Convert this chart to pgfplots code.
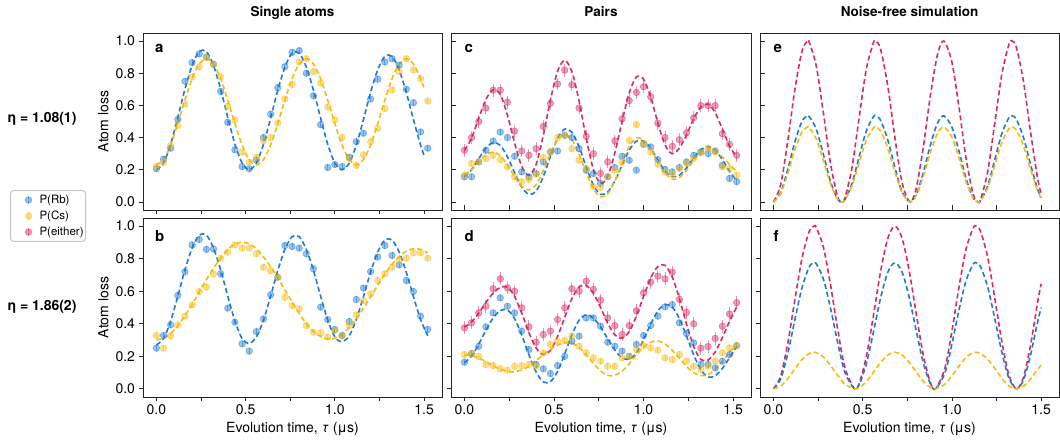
\documentclass[border=0pt]{standalone}
\usepackage{fontspec}
\setmainfont{TeX Gyre Heros}
\usepackage{pgfplots}
\usepackage{pgfplotstable}
\pgfplotsset{compat=1.18}
\definecolor{cblue}{RGB}{28,122,212}
\definecolor{cyel}{RGB}{246,186,12}
\definecolor{cpink}{RGB}{215,42,96}
\newcommand\fs[1]{\fontsize{#1}{#1}\selectfont}

\pgfplotstableread{
t b y
0.00 0.206 0.22
0.04 0.266 0.245
0.08 0.334 0.35
0.12 0.513 0.476
0.16 0.75 0.608
0.20 0.866 0.777
0.24 0.92 0.84
0.28 0.90 0.897
0.32 0.856 0.856
0.36 0.687 0.777
0.40 0.495 0.596
0.44 0.324 0.51
0.48 0.22 0.31
0.52 0.206 0.247
0.56 0.26 0.278
0.60 0.40 0.38
0.64 0.546 0.40
0.68 0.71 0.49
0.72 0.84 0.64
0.76 0.93 0.73
0.80 0.94 0.87
0.84 0.80 0.89
0.88 0.66 0.81
0.92 0.48 0.74
0.96 0.214 0.59
1.00 0.233 0.51
1.04 0.22 0.40
1.08 0.278 0.27
1.12 0.375 0.227
1.16 0.427 0.293
1.20 0.64 0.375
1.24 0.763 0.458
1.28 0.87 0.58
1.32 0.89 0.695
1.36 0.85 0.81
1.40 0.70 0.89
1.44 0.617 0.82
1.48 0.435 0.767
1.52 0.334 0.627
}\tabA

\pgfplotstableread{
t b y
0.00 0.200 0.230
0.04 0.242 0.263
0.08 0.360 0.354
0.12 0.525 0.487
0.16 0.701 0.633
0.20 0.847 0.766
0.24 0.935 0.857
0.28 0.935 0.890
0.32 0.847 0.857
0.36 0.701 0.766
0.40 0.525 0.633
0.44 0.360 0.487
0.48 0.242 0.354
0.52 0.200 0.263
0.56 0.242 0.230
0.60 0.358 0.263
0.64 0.521 0.354
0.68 0.694 0.487
0.72 0.838 0.633
0.76 0.925 0.766
0.80 0.925 0.857
0.84 0.838 0.890
0.88 0.694 0.857
0.92 0.521 0.766
0.96 0.358 0.633
1.00 0.242 0.487
1.04 0.200 0.354
1.08 0.241 0.263
1.12 0.353 0.230
1.16 0.512 0.263
1.20 0.681 0.354
1.24 0.821 0.487
1.28 0.905 0.633
1.32 0.905 0.766
1.36 0.821 0.857
1.40 0.681 0.890
1.44 0.512 0.857
1.48 0.353 0.766
1.50 0.290 0.710
}\fitA

\pgfplotstableread{
t b y
0.00 0.25 0.328
0.04 0.328 0.25
0.08 0.393 0.324
0.12 0.574 0.393
0.16 0.72 0.447
0.20 0.885 0.516
0.24 0.918 0.598
0.28 0.857 0.625
0.32 0.86 0.707
0.36 0.707 0.803
0.40 0.496 0.84
0.44 0.41 0.885
0.48 0.277 0.865
0.52 0.232 0.865
0.56 0.352 0.83
0.60 0.43 0.748
0.64 0.578 0.727
0.68 0.686 0.686
0.72 0.881 0.563
0.76 0.875 0.512
0.80 0.865 0.492
0.84 0.83 0.389
0.88 0.738 0.348
0.92 0.502 0.344
0.96 0.426 0.318
1.00 0.365 0.359
1.04 0.328 0.324
1.08 0.414 0.389
1.12 0.549 0.455
1.16 0.619 0.543
1.20 0.721 0.584
1.24 0.81 0.666
1.28 0.881 0.707
1.32 0.82 0.748
1.36 0.762 0.789
1.40 0.666 0.803
1.44 0.598 0.836
1.48 0.447 0.836
1.52 0.365 0.803
}\tabB

\pgfplotstableread{
t b y
0.00 0.270 0.301
0.04 0.309 0.311
0.08 0.417 0.341
0.12 0.569 0.388
0.16 0.731 0.449
0.20 0.865 0.519
0.24 0.945 0.595
0.28 0.945 0.671
0.32 0.865 0.742
0.36 0.731 0.803
0.40 0.569 0.857
0.44 0.417 0.889
0.48 0.309 0.901
0.52 0.280 0.892
0.56 0.318 0.862
0.60 0.423 0.810
0.64 0.570 0.751
0.68 0.727 0.682
0.72 0.857 0.608
0.76 0.935 0.533
0.80 0.935 0.463
0.84 0.857 0.401
0.88 0.727 0.353
0.92 0.570 0.321
0.96 0.423 0.306
1.00 0.318 0.311
1.04 0.290 0.335
1.08 0.326 0.375
1.12 0.426 0.430
1.16 0.567 0.495
1.20 0.717 0.565
1.24 0.841 0.637
1.28 0.915 0.705
1.32 0.915 0.765
1.36 0.841 0.813
1.40 0.717 0.846
1.44 0.567 0.861
1.48 0.426 0.857
1.52 0.326 0.835
}\fitB

\pgfplotstableread{
t b y p
0.00 0.156 0.167 0.321
0.04 0.156 0.239 0.40
0.08 0.249 0.249 0.50
0.12 0.321 0.27 0.584
0.16 0.379 0.29 0.695
0.20 0.434 0.263 0.695
0.24 0.40 0.218 0.62
0.28 0.284 0.156 0.44
0.32 0.187 0.126 0.317
0.36 0.156 0.14 0.29
0.40 0.177 0.173 0.331
0.44 0.249 0.276 0.469
0.48 0.311 0.311 0.613
0.52 0.317 0.40 0.733
0.56 0.414 0.414 0.819
0.60 0.40 0.331 0.728
0.64 0.331 0.259 0.584
0.68 0.198 0.208 0.407
0.72 0.177 0.095 0.30
0.76 0.115 0.09 0.177
0.80 0.156 0.156 0.249
0.84 0.214 0.198 0.379
0.88 0.284 0.249 0.516
0.92 0.259 0.383 0.63
0.96 0.198 0.481 0.681
1.00 0.358 0.362 0.716
1.04 0.342 0.311 0.654
1.08 0.263 0.235 0.49
1.12 0.202 0.187 0.40
1.16 0.187 0.173 0.346
1.20 0.214 0.208 0.387
1.24 0.249 0.239 0.43
1.28 0.29 0.27 0.523
1.32 0.311 0.305 0.599
1.36 0.30 0.331 0.599
1.40 0.317 0.311 0.599
1.44 0.228 0.218 0.424
1.48 0.146 0.208 0.358
1.52 0.126 0.167 0.29
}\tabC

\pgfplotstableread{
t b y p
0.00 0.156 0.169 0.320
0.04 0.200 0.201 0.398
0.08 0.269 0.250 0.521
0.12 0.335 0.293 0.637
0.16 0.368 0.310 0.697
0.20 0.352 0.288 0.668
0.24 0.281 0.229 0.540
0.28 0.182 0.156 0.367
0.32 0.092 0.097 0.221
0.36 0.047 0.075 0.165
0.40 0.067 0.108 0.233
0.44 0.157 0.194 0.412
0.48 0.282 0.301 0.633
0.52 0.395 0.387 0.812
0.56 0.453 0.420 0.880
0.60 0.433 0.386 0.810
0.64 0.343 0.296 0.627
0.68 0.218 0.182 0.396
0.72 0.105 0.082 0.202
0.76 0.047 0.032 0.116
0.80 0.062 0.050 0.160
0.84 0.130 0.131 0.305
0.88 0.228 0.244 0.500
0.92 0.321 0.346 0.678
0.96 0.378 0.398 0.777
1.00 0.379 0.386 0.763
1.04 0.333 0.329 0.652
1.08 0.261 0.250 0.491
1.12 0.192 0.178 0.354
1.16 0.157 0.142 0.300
1.20 0.166 0.151 0.333
1.24 0.212 0.197 0.417
1.28 0.273 0.258 0.517
1.32 0.325 0.310 0.591
1.36 0.345 0.330 0.608
1.40 0.323 0.316 0.555
1.44 0.264 0.280 0.454
1.48 0.191 0.233 0.347
1.52 0.132 0.189 0.279
}\fitC

\pgfplotstableread{
t b y p
0.00 0.164 0.211 0.375
0.04 0.217 0.217 0.406
0.08 0.262 0.20 0.467
0.12 0.381 0.15 0.508
0.16 0.467 0.143 0.615
0.20 0.559 0.123 0.676
0.24 0.508 0.115 0.621
0.28 0.467 0.139 0.60
0.32 0.355 0.143 0.498
0.36 0.242 0.15 0.381
0.40 0.15 0.139 0.287
0.44 0.123 0.221 0.334
0.48 0.094 0.273 0.355
0.52 0.143 0.293 0.426
0.56 0.20 0.297 0.498
0.60 0.293 0.324 0.615
0.64 0.324 0.262 0.60
0.68 0.436 0.221 0.662
0.72 0.436 0.191 0.611
0.76 0.385 0.17 0.545
0.80 0.287 0.139 0.436
0.84 0.262 0.139 0.389
0.88 0.232 0.191 0.334
0.92 0.20 0.20 0.389
0.96 0.273 0.242 0.48
1.00 0.328 0.266 0.59
1.04 0.389 0.252 0.656
1.08 0.447 0.238 0.693
1.12 0.504 0.191 0.676
1.16 0.518 0.18 0.717
1.20 0.406 0.211 0.55
1.24 0.34 0.17 0.47
1.28 0.283 0.139 0.40
1.32 0.15 0.119 0.25
1.36 0.15 0.139 0.26
1.40 0.129 0.17 0.31
1.44 0.17 0.221 0.385
1.48 0.211 0.252 0.46
1.52 0.266 0.266 0.53
}\tabD

\pgfplotstableread{
t b y p
0.00 0.160 0.210 0.379
0.04 0.202 0.204 0.411
0.08 0.275 0.189 0.466
0.12 0.360 0.167 0.531
0.16 0.435 0.142 0.588
0.20 0.481 0.121 0.623
0.24 0.485 0.108 0.625
0.28 0.431 0.105 0.568
0.32 0.330 0.116 0.465
0.36 0.210 0.140 0.346
0.40 0.104 0.173 0.252
0.44 0.043 0.209 0.210
0.48 0.044 0.243 0.236
0.52 0.107 0.269 0.322
0.56 0.215 0.283 0.440
0.60 0.332 0.282 0.554
0.64 0.422 0.255 0.626
0.68 0.455 0.209 0.636
0.72 0.435 0.156 0.587
0.76 0.381 0.110 0.500
0.80 0.308 0.083 0.403
0.84 0.238 0.083 0.332
0.88 0.191 0.109 0.311
0.92 0.182 0.154 0.352
0.96 0.221 0.208 0.447
1.00 0.302 0.256 0.568
1.04 0.398 0.287 0.681
1.08 0.479 0.294 0.752
1.12 0.518 0.276 0.759
1.16 0.503 0.237 0.688
1.20 0.432 0.188 0.556
1.24 0.324 0.138 0.398
1.28 0.209 0.099 0.261
1.32 0.117 0.081 0.180
1.36 0.072 0.088 0.177
1.40 0.081 0.120 0.227
1.44 0.125 0.169 0.314
1.48 0.191 0.224 0.415
1.52 0.260 0.270 0.503
}\fitD

\pgfplotstableread{
t p b y
0.00 0 0 0
0.04 0.104 0.056 0.049
0.08 0.374 0.200 0.174
0.12 0.696 0.372 0.324
0.16 0.937 0.501 0.436
0.191 1.000 0.535 0.465
0.20 0.995 0.532 0.462
0.24 0.846 0.453 0.393
0.28 0.554 0.296 0.257
0.32 0.238 0.127 0.111
0.36 0.032 0.017 0.015
0.382 0 0 0
0.40 0.022 0.012 0.010
0.44 0.211 0.113 0.098
0.48 0.521 0.279 0.242
0.52 0.822 0.440 0.382
0.56 0.989 0.529 0.460
0.573 1 0.535 0.465
0.60 0.952 0.509 0.443
0.64 0.726 0.388 0.338
0.68 0.406 0.217 0.189
0.72 0.125 0.067 0.058
0.764 0 0 0
0.80 0.085 0.046 0.040
0.84 0.342 0.183 0.159
0.88 0.665 0.356 0.309
0.92 0.920 0.492 0.428
0.955 1 0.535 0.465
1.00 0.869 0.465 0.404
1.04 0.586 0.314 0.272
1.08 0.267 0.143 0.124
1.12 0.045 0.024 0.021
1.146 0 0 0
1.16 0.013 0.007 0.006
1.20 0.185 0.099 0.086
1.24 0.488 0.261 0.227
1.28 0.796 0.426 0.370
1.32 0.981 0.525 0.456
1.337 1 0.535 0.465
1.36 0.965 0.516 0.449
1.40 0.755 0.404 0.351
1.44 0.439 0.235 0.204
1.48 0.148 0.079 0.069
1.50 0.052 0.028 0.024
}\simE

\pgfplotstableread{
t p b y
0.00 0 0 0
0.04 0.075 0.058 0.017
0.08 0.277 0.214 0.062
0.12 0.545 0.423 0.123
0.16 0.800 0.620 0.180
0.20 0.966 0.748 0.217
0.227 1 0.775 0.225
0.24 0.992 0.769 0.223
0.28 0.872 0.675 0.196
0.32 0.640 0.496 0.144
0.36 0.367 0.284 0.083
0.40 0.133 0.103 0.030
0.454 0 0 0
0.48 0.032 0.025 0.007
0.52 0.195 0.151 0.044
0.56 0.448 0.347 0.101
0.60 0.718 0.556 0.161
0.64 0.922 0.714 0.207
0.68 1.0 0.775 0.225
0.72 0.929 0.720 0.209
0.76 0.730 0.566 0.164
0.80 0.462 0.358 0.104
0.84 0.206 0.159 0.046
0.88 0.037 0.029 0.008
0.908 0 0 0
0.96 0.124 0.096 0.028
1.00 0.354 0.274 0.080
1.04 0.627 0.486 0.141
1.08 0.862 0.668 0.194
1.12 0.989 0.767 0.223
1.135 1 0.775 0.225
1.16 0.970 0.752 0.218
1.20 0.811 0.628 0.182
1.24 0.559 0.433 0.126
1.28 0.289 0.224 0.065
1.32 0.082 0.064 0.018
1.362 0 0 0
1.40 0.068 0.052 0.015
1.44 0.264 0.205 0.059
1.48 0.531 0.411 0.119
1.50 0.645 0.500 0.145
}\simF

\pgfplotsset{
  panel/.style={scale only axis, xmin=-0.075, xmax=1.6, ymin=-0.05, ymax=1.05,
    xtick={0,0.25,0.5,0.75,1,1.25,1.5}, ytick={0,0.2,0.4,0.6,0.8,1},
    xtick pos=bottom, ytick pos=left,
    axis line style={line width=0.8pt, black!85},
    major tick style={line width=0.8pt, black!85},
    major tick length=4.5pt,
    tick label style={font=\fs{14}}, label style={font=\fs{14}},
    xticklabels={}, yticklabels={}},
  xlab/.style={xticklabels={0.0,,0.5,,1.0,,1.5}, xlabel={Evolution time, \textit{τ} (μs)}},
  ylab/.style={yticklabels={0.0,0.2,0.4,0.6,0.8,1.0}, ylabel={Atom loss}},
  dat/.style={only marks, mark=*, mark size=3.3pt, color=#1,
    mark options={fill=#1, fill opacity=0.45, draw opacity=0.45, line width=0.7pt},
    legend image code/.code={\path[draw=none, fill=none] (0pt,0pt) rectangle (27pt,0.1pt);
      \draw[##1, mark=none, line width=0.9pt, opacity=0.5] (18pt,-4pt) -- (18pt,4pt);
      \draw[##1, only marks] plot coordinates {(18pt,0pt)};},
    /pgfplots/error bars/y dir=both, /pgfplots/error bars/y fixed=0.02, /pgfplots/error bars/error mark=none,
    /pgfplots/error bars/error bar style={color=#1, line width=0.9pt, opacity=0.5}},
  fit/.style={no marks, smooth, color=#1, line width=1.6pt, dash pattern=on 5pt off 3pt, forget plot},
}
\tikzset{lett/.style={anchor=base west, inner sep=0pt, font=\fs{15}\bfseries}}

\begin{document}
\begin{tikzpicture}[font=\fs{14}]
\useasboundingbox (0,0) rectangle (1060pt,447pt);

% ---- a
\begin{axis}[panel, ylab, at={(143pt,237pt)}, anchor=south west, width=299pt, height=177pt, tick align=outside]
\addplot[dat=cblue] table[x=t,y=b]{\tabA};
\addplot[dat=cyel] table[x=t,y=y]{\tabA};
\addplot[fit=cblue] table[x=t,y=b]{\fitA};
\addplot[fit=cyel] table[x=t,y=y]{\fitA};
\node[lett] at (rel axis cs:0.04,0.887) {a};
\end{axis}

% ---- c
\begin{axis}[panel, at={(451pt,237pt)}, anchor=south west, width=300pt, height=177pt, tick align=inside,
  legend style={at={(-1.47,0.113)}, anchor=north west, draw=black!22, line width=1.1pt, rounded corners=3pt,
    font=\fs{11.5}, inner xsep=0pt, inner ysep=2.5pt, row sep=2pt, fill=white}, legend cell align=left]
\addplot[dat=cblue] table[x=t,y=b]{\tabC};
\addlegendentry{P(Rb)}
\addplot[dat=cyel] table[x=t,y=y]{\tabC};
\addlegendentry{P(Cs)}
\addplot[dat=cpink, /pgfplots/error bars/y fixed=0.04] table[x=t,y=p]{\tabC};
\addlegendentry{P(either)}
\addplot[fit=cpink] table[x=t,y=p]{\fitC};
\addplot[fit=cblue] table[x=t,y=b]{\fitC};
\addplot[fit=cyel] table[x=t,y=y]{\fitC};
\node[lett] at (rel axis cs:0.045,0.887) {c};
\end{axis}

% ---- e
\begin{axis}[panel, at={(760pt,237pt)}, anchor=south west, width=299pt, height=177pt, tick align=inside]
\addplot[fit=cpink] table[x=t,y=p]{\simE};
\addplot[fit=cblue] table[x=t,y=b]{\simE};
\addplot[fit=cyel] table[x=t,y=y]{\simE};
\node[lett] at (rel axis cs:0.045,0.887) {e};
\end{axis}

% ---- b
\begin{axis}[panel, ylab, xlab, at={(143pt,50pt)}, anchor=south west, width=299pt, height=179pt, tick align=outside]
\addplot[dat=cblue] table[x=t,y=b]{\tabB};
\addplot[dat=cyel] table[x=t,y=y]{\tabB};
\addplot[fit=cblue] table[x=t,y=b]{\fitB};
\addplot[fit=cyel] table[x=t,y=y]{\fitB};
\node[lett] at (rel axis cs:0.04,0.868) {b};
\end{axis}

% ---- d
\begin{axis}[panel, xlab, at={(451pt,50pt)}, anchor=south west, width=300pt, height=179pt, tick align=outside]
\addplot[dat=cblue] table[x=t,y=b]{\tabD};
\addplot[dat=cyel] table[x=t,y=y]{\tabD};
\addplot[dat=cpink, /pgfplots/error bars/y fixed=0.04] table[x=t,y=p]{\tabD};
\addplot[fit=cpink] table[x=t,y=p]{\fitD};
\addplot[fit=cblue] table[x=t,y=b]{\fitD};
\addplot[fit=cyel] table[x=t,y=y]{\fitD};
\node[lett] at (rel axis cs:0.045,0.868) {d};
\end{axis}

% ---- f
\begin{axis}[panel, xlab, at={(760pt,50pt)}, anchor=south west, width=299pt, height=179pt, tick align=outside]
\addplot[fit=cpink] table[x=t,y=p]{\simF};
\addplot[fit=cblue] table[x=t,y=b]{\simF};
\addplot[fit=cyel] table[x=t,y=y]{\simF};
\node[lett] at (rel axis cs:0.045,0.868) {f};
\end{axis}

% ---- titles and row labels
\node[anchor=base, font=\fs{13.5}\bfseries] at (292.5pt,430pt) {Single atoms};
\node[anchor=base, font=\fs{13.5}\bfseries] at (601pt,430pt) {Pairs};
\node[anchor=base, font=\fs{13.5}\bfseries] at (909.5pt,430pt) {Noise-free simulation};
\node[font=\fs{14}\bfseries] at (42pt,328pt) {η = 1.08(1)};
\node[font=\fs{14}\bfseries] at (42pt,140pt) {η = 1.86(2)};
\end{tikzpicture}
\end{document}
